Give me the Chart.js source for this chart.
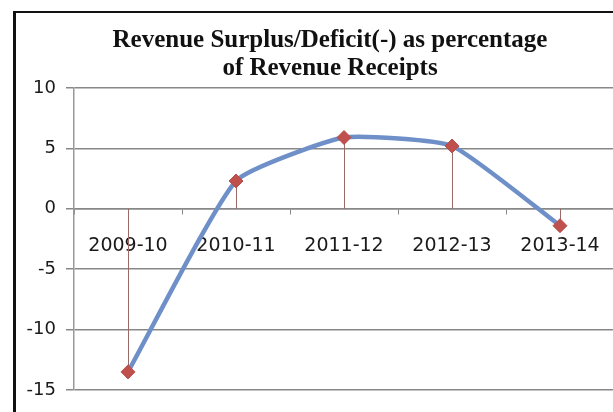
<!DOCTYPE html>
<html>
<head>
<meta charset="utf-8">
<script src="https://cdn.jsdelivr.net/npm/chart.js@4.4.1/dist/chart.umd.min.js"></script>
<style>
  html, body { margin: 0; padding: 0; background: #fff; }
  #wrap { position: relative; width: 613px; height: 412px; overflow: hidden; }
  #frame {
    position: absolute; left: 13px; top: 11px; width: 660px; height: 420px;
    border-left: 3px solid #111; border-top: 2px solid #111; box-sizing: border-box;
    pointer-events: none;
  }
  canvas { position: absolute; left: 0; top: 0; }
</style>
</head>
<body>
<div id="wrap">
  <canvas id="chart" width="660" height="412"></canvas>
  <div id="frame"></div>
</div>
<script>
// Revenue surplus / deficit as % of revenue receipts
const years = ['2009-10', '2010-11', '2011-12', '2012-13', '2013-14'];
const surplusPct = [-13.5, 2.3, 5.9, 5.2, -1.4];
const yTicks = [-15, -10, -5, 0, 5, 10];

// thin drop lines from each point down/up to the zero line
const dropLines = {
    id: 'dropLines',
    beforeDatasetsDraw: function (chart) {
        const ctx = chart.ctx;
        const yScale = chart.scales.y;
        const y0 = yScale.getPixelForValue(0);
        const meta = chart.getDatasetMeta(0);
        ctx.save();
        ctx.strokeStyle = '#9a6a66';
        ctx.lineWidth = 1;
        meta.data.forEach(function (pt) {
            const x = Math.round(pt.x) + 0.5;
            ctx.beginPath();
            ctx.moveTo(x, y0);
            ctx.lineTo(x, pt.y);
            ctx.stroke();
        });
        ctx.restore();
    }
};

new Chart(document.getElementById('chart'), {
    type: 'line',
    data: {
        labels: years,
        datasets: [{
            data: surplusPct,
            borderColor: '#6f8fc8',
            borderWidth: 4.5,
            tension: 0.15,
            pointStyle: 'rectRot',
            pointRadius: 7,
            pointBackgroundColor: '#c0504d',
            pointBorderColor: '#b5504a',
            pointBorderWidth: 1
        }]
    },
    options: {
        responsive: false,
        animation: false,
        devicePixelRatio: 1,
        layout: { padding: { left: 0, right: 0, top: 0, bottom: 22 } },
        plugins: {
            legend: { display: false },
            tooltip: { enabled: false },
            title: {
                display: true,
                text: ['Revenue Surplus/Deficit(-) as percentage', 'of Revenue Receipts'],
                color: '#111',
                font: { family: '"Liberation Serif", serif', size: 25, weight: 'bold', lineHeight: 1.1 },
                padding: { top: 27, bottom: 6 }
            }
        },
        scales: {
            x: {
                type: 'category',
                position: { y: 0 },
                offset: true,
                grid: {
                    drawOnChartArea: false,
                    drawTicks: true,
                    tickLength: 5,
                    offset: true,
                    color: '#888'
                },
                border: { display: true, color: '#888', width: 1.5 },
                ticks: {
                    color: '#1a1a1a',
                    padding: 21,
                    font: { family: '"DejaVu Sans", sans-serif', size: 19 }
                }
            },
            y: {
                min: yTicks[0],
                max: yTicks[yTicks.length - 1],
                afterFit: function (scale) { scale.width = 74; },
                afterBuildTicks: function (scale) {
                    scale.ticks = yTicks.map(function (v) { return { value: v }; });
                },
                grid: { color: '#888', lineWidth: 1.5, tickLength: 8 },
                border: { display: true, color: '#999', width: 1.5 },
                ticks: {
                    color: '#1a1a1a',
                    padding: 10,
                    font: { family: '"DejaVu Sans", sans-serif', size: 18 }
                }
            },
            // empty right-hand margin so the title sits centred over the whole chart
            yRight: {
                type: 'linear',
                position: 'right',
                min: yTicks[0],
                max: yTicks[yTicks.length - 1],
                afterFit: function (scale) { scale.width = 46; },
                grid: { display: false },
                border: { display: false },
                ticks: { display: false }
            }
        }
    },
    plugins: [dropLines]
});
</script>
</body>
</html>
